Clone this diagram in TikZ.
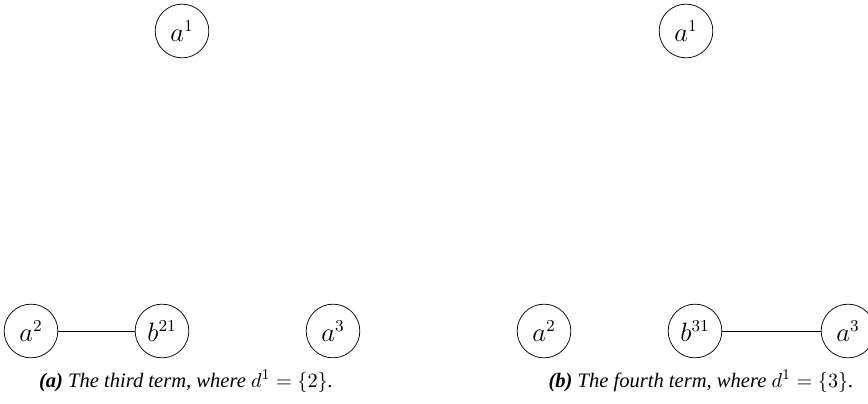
\documentclass[tikz,border=0pt]{standalone}
\usepackage{fontspec}
\setmainfont{Liberation Serif}
\begin{document}
\begin{tikzpicture}[x=0.54pt,y=-0.54pt,
  vert/.style={draw,circle,minimum size=29pt,inner sep=0pt,font=\fontsize{13.5}{15}\selectfont},
  edge/.style={draw,line width=0.5pt},
  captext/.style={font=\fontsize{11.1}{13}\selectfont\itshape,anchor=base}]
\useasboundingbox (0,0) rectangle (868,404);
\clip (0,0) rectangle (868,404);
% (a)
\node[vert] (La1) at (182,31) {$a^1$};
\node[vert] (La2) at (31,331) {$a^2$};
\node[vert] (Lb21) at (162,331) {$b^{21}$};
\node[vert] (La3) at (333,331) {$a^3$};
\draw[edge] (La2) -- (Lb21);
\node[captext] (Lcap) at (186,387) {\textbf{(a)} The third term, where $d^1=\{2\}$.};
% (b)
\node[vert] (Ra1) at (686,31) {$a^1$};
\node[vert] (Ra2) at (544,331) {$a^2$};
\node[vert] (Rb31) at (695,331) {$b^{31}$};
\node[vert] (Ra3) at (848,331) {$a^3$};
\draw[edge] (Rb31) -- (Ra3);
\node[captext] (Rcap) at (701,387) {\textbf{(b)} The fourth term, where $d^1=\{3\}$.};
\end{tikzpicture}
\end{document}
